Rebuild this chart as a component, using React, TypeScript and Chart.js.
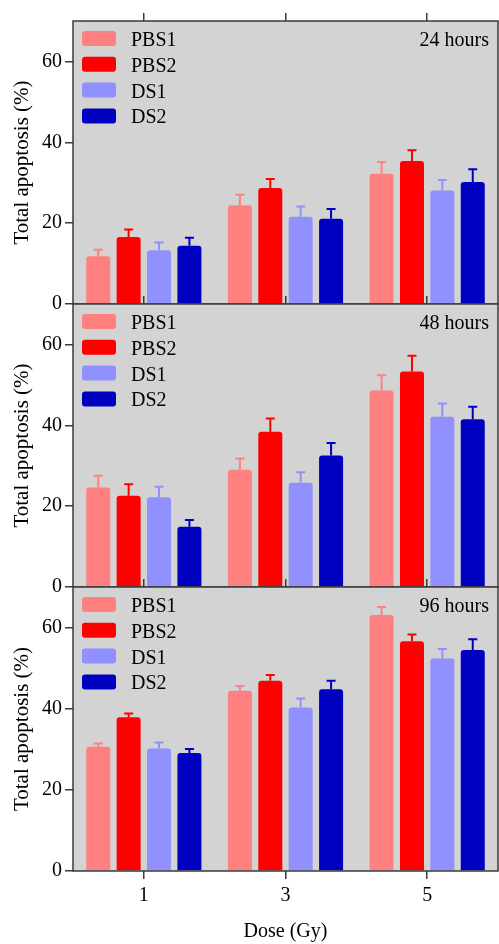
import React, { useEffect, useRef } from 'react';
import { Chart, registerables } from 'chart.js';

Chart.register(...registerables);

// ---- data ----
const doses = ['1', '3', '5'];
const seriesNames = ['PBS1', 'PBS2', 'DS1', 'DS2'];
const seriesColors = ['#ff8080', '#ff0000', '#9090ff', '#0000c0'];
const yTickValues = [0, 20, 40, 60];
const panelTitles = ['24 hours', '48 hours', '96 hours'];
const xTitle = 'Dose (Gy)';
const yTitle = 'Total apoptosis (%)';

// 24 hours
const pbs1_24h = [11.8, 24.4, 32.2];
const pbs2_24h = [16.6, 28.7, 35.4];
const ds1_24h = [13.3, 21.6, 28.1];
const ds2_24h = [14.4, 21.1, 30.2];
const pbs1_24h_err = [1.6, 2.6, 2.9];
const pbs2_24h_err = [1.8, 2.2, 2.6];
const ds1_24h_err = [1.9, 2.5, 2.6];
const ds2_24h_err = [2.0, 2.4, 3.1];

// 48 hours
const pbs1_48h = [24.6, 29.0, 48.6];
const pbs2_48h = [22.6, 38.4, 53.3];
const ds1_48h = [22.2, 25.8, 42.1];
const ds2_48h = [14.9, 32.5, 41.5];
const pbs1_48h_err = [2.9, 2.8, 3.8];
const pbs2_48h_err = [2.8, 3.3, 3.9];
const ds1_48h_err = [2.6, 2.6, 3.3];
const ds2_48h_err = [1.7, 3.1, 3.1];

// 96 hours
const pbs1_96h = [30.6, 44.4, 63.1];
const pbs2_96h = [37.9, 46.9, 56.6];
const ds1_96h = [30.2, 40.3, 52.4];
const ds2_96h = [29.1, 44.8, 54.5];
const pbs1_96h_err = [0.8, 1.2, 2.0];
const pbs2_96h_err = [0.9, 1.4, 1.7];
const ds1_96h_err = [1.5, 2.2, 2.3];
const ds2_96h_err = [1.0, 2.1, 2.6];

const FONT = "'Liberation Serif', 'Times New Roman', serif";
const AXIS_COLOR = '#3a3a3a';
const BG = '#d3d3d3';

type PanelDef = {
  title: string;
  values: number[][];
  errors: number[][];
  canvasTop: number;
  canvasHeight: number;
  plotBottom: number;
  isLast: boolean;
};

const panels: PanelDef[] = [
  {
    title: panelTitles[0],
    values: [pbs1_24h, pbs2_24h, ds1_24h, ds2_24h],
    errors: [pbs1_24h_err, pbs2_24h_err, ds1_24h_err, ds2_24h_err],
    canvasTop: 0,
    canvasHeight: 328,
    plotBottom: 304,
    isLast: false,
  },
  {
    title: panelTitles[1],
    values: [pbs1_48h, pbs2_48h, ds1_48h, ds2_48h],
    errors: [pbs1_48h_err, pbs2_48h_err, ds1_48h_err, ds2_48h_err],
    canvasTop: 283,
    canvasHeight: 328,
    plotBottom: 304,
    isLast: false,
  },
  {
    title: panelTitles[2],
    values: [pbs1_96h, pbs2_96h, ds1_96h, ds2_96h],
    errors: [pbs1_96h_err, pbs2_96h_err, ds1_96h_err, ds2_96h_err],
    canvasTop: 566,
    canvasHeight: 378,
    plotBottom: 305,
    isLast: true,
  },
];

const PLOT_TOP = 21;
const Y_AXIS_WIDTH = 73;

function Panel({ def }: { def: PanelDef }) {
  const ref = useRef<HTMLCanvasElement>(null);

  useEffect(() => {
    const canvas = ref.current;
    if (!canvas) return;

    const panelPlugin = {
      id: 'panelDecor',
      beforeDatasetsDraw(chart: any) {
        const { ctx, chartArea: a } = chart;
        ctx.save();
        ctx.fillStyle = BG;
        ctx.fillRect(a.left, a.top, a.right - a.left, a.bottom - a.top);
        ctx.restore();
      },
      afterDatasetsDraw(chart: any) {
        const { ctx, chartArea: a } = chart;
        const yScale = chart.scales.y;
        ctx.save();
        // error bars
        chart.data.datasets.forEach((ds: any, i: number) => {
          const meta = chart.getDatasetMeta(i);
          const errs = def.errors[i];
          meta.data.forEach((bar: any, j: number) => {
            const v = ds.data[j] as number;
            const yErr = yScale.getPixelForValue(v + errs[j]);
            ctx.strokeStyle = seriesColors[i];
            ctx.lineWidth = 2;
            ctx.beginPath();
            ctx.moveTo(bar.x, bar.y);
            ctx.lineTo(bar.x, yErr);
            ctx.moveTo(bar.x - 4.5, yErr);
            ctx.lineTo(bar.x + 4.5, yErr);
            ctx.stroke();
          });
        });
        // frame
        ctx.strokeStyle = AXIS_COLOR;
        ctx.lineWidth = 1.5;
        ctx.strokeRect(a.left, a.top, a.right - a.left, a.bottom - a.top);
        // legend
        ctx.font = `20px ${FONT}`;
        ctx.textBaseline = 'alphabetic';
        ctx.textAlign = 'left';
        seriesNames.forEach((name, i) => {
          const cy = a.top + 17.5 + i * 25.8;
          ctx.fillStyle = seriesColors[i];
          ctx.beginPath();
          (ctx as any).roundRect(a.left + 9, cy - 7.5, 34, 15, 3);
          ctx.fill();
          ctx.fillStyle = '#000';
          ctx.fillText(name, a.left + 58, cy + 7.5);
        });
        // panel title
        ctx.textAlign = 'right';
        ctx.fillStyle = '#000';
        ctx.fillText(def.title, a.right - 9, a.top + 25);
        ctx.restore();
      },
    };

    const chart = new Chart(canvas, {
      type: 'bar',
      data: {
        labels: doses,
        datasets: seriesNames.map((name, i) => ({
          label: name,
          data: def.values[i],
          backgroundColor: seriesColors[i],
          borderWidth: 0,
          borderRadius: 3,
          categoryPercentage: 0.858,
          barPercentage: 0.79,
          xAxisID: 'x',
          yAxisID: 'y',
        })),
      },
      options: {
        responsive: false,
        maintainAspectRatio: false,
        animation: false,
        layout: { padding: { left: 0, right: 1, top: 0, bottom: 0 } },
        plugins: {
          legend: { display: false },
          tooltip: { enabled: false },
          title: { display: false },
        },
        scales: {
          x: {
            type: 'category',
            position: 'bottom',
            offset: true,
            grid: {
              display: def.isLast,
              drawOnChartArea: false,
              drawTicks: true,
              tickLength: 8,
              color: AXIS_COLOR,
              lineWidth: 1.5,
              offset: false,
            },
            border: { display: false },
            ticks: {
              display: def.isLast,
              color: '#000',
              font: { family: FONT, size: 20 },
              padding: 5,
              maxRotation: 0,
            },
            title: {
              display: def.isLast,
              text: xTitle,
              color: '#000',
              font: { family: FONT, size: 20, lineHeight: 1.2 },
              padding: { top: 0, bottom: 0 },
            },
            afterFit(scale: any) {
              scale.height = def.canvasHeight - def.plotBottom;
            },
          },
          x2: {
            type: 'category',
            position: 'top',
            offset: true,
            grid: {
              display: true,
              drawOnChartArea: false,
              drawTicks: true,
              tickLength: 8,
              color: AXIS_COLOR,
              lineWidth: 1.5,
              offset: false,
            },
            border: { display: false },
            ticks: { display: false },
            afterFit(scale: any) {
              scale.height = PLOT_TOP;
            },
          },
          y: {
            type: 'linear',
            min: 0,
            max: 70,
            grid: {
              drawOnChartArea: false,
              drawTicks: true,
              tickLength: 8,
              color: AXIS_COLOR,
              lineWidth: 1.5,
            },
            border: { display: false },
            ticks: {
              stepSize: 20,
              color: '#000',
              font: { family: FONT, size: 20 },
              padding: 3,
            },
            afterBuildTicks(scale: any) {
              scale.ticks = yTickValues.map((v) => ({ value: v }));
            },
            title: {
              display: true,
              text: yTitle,
              color: '#000',
              font: { family: FONT, size: 21, lineHeight: 1.2 },
              padding: { top: 10, bottom: 0 },
            },
            afterFit(scale: any) {
              scale.width = Y_AXIS_WIDTH;
            },
          },
        },
      },
      plugins: [panelPlugin],
    } as any);

    return () => chart.destroy();
  }, [def]);

  return (
    <canvas
      ref={ref}
      width={499}
      height={def.canvasHeight}
      style={{
        position: 'absolute',
        left: 0,
        top: def.canvasTop,
        width: 499,
        height: def.canvasHeight,
        display: 'block',
      }}
    />
  );
}

export default function App() {
  return (
    <div
      style={{
        position: 'absolute',
        left: 0,
        top: 0,
        width: 499,
        height: 944,
        background: '#fff',
        overflow: 'hidden',
      }}
    >
      {panels.map((p, i) => (
        <Panel key={i} def={p} />
      ))}
    </div>
  );
}
